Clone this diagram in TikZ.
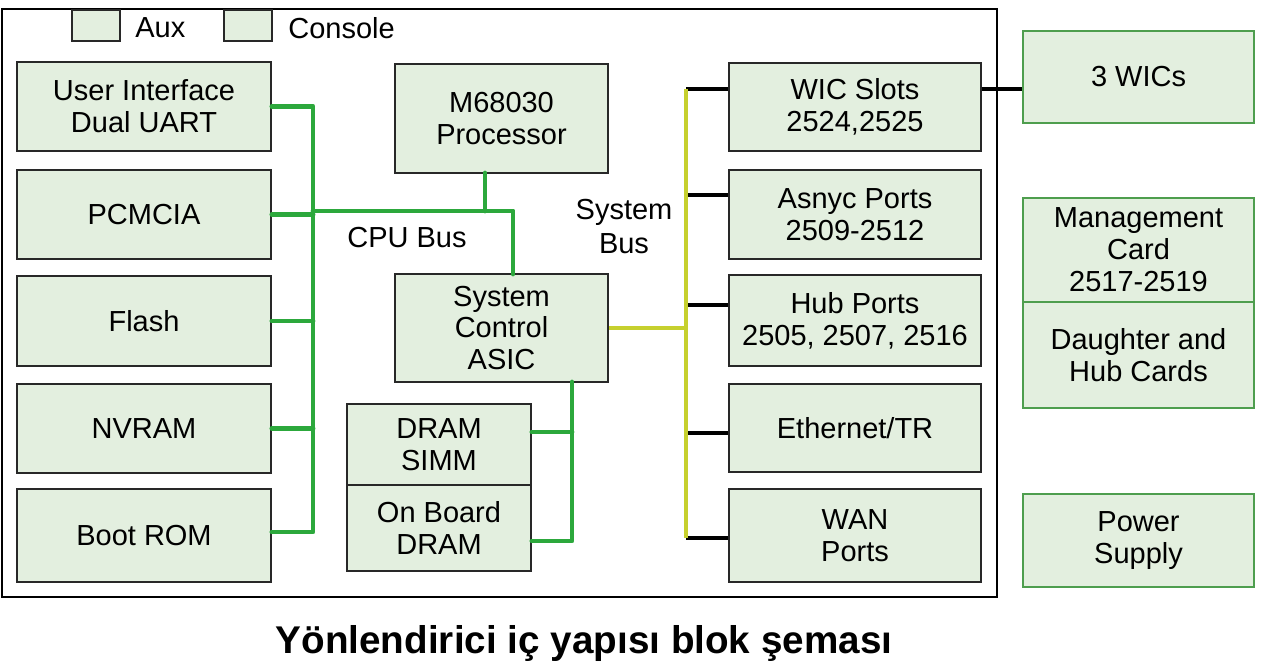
\documentclass[tikz,border=0pt]{standalone}
\usepackage{fontspec}
\setmainfont{Liberation Sans}
\usepackage{tikz}
\usetikzlibrary{positioning}
\definecolor{rtedge}{RGB}{40,40,40}
\definecolor{rtfill}{RGB}{227,239,223}
\definecolor{rtgreen}{RGB}{44,168,60}
\definecolor{rtcard}{RGB}{78,158,78}
\definecolor{rtsys}{RGB}{198,208,46}
\tikzset{
  blk/.style={
    draw=rtedge, line width=1.1pt, fill=rtfill, align=center,
    inner sep=0pt, font=\fontsize{16.5}{18.2}\selectfont
  },
  card/.style={blk, draw=rtcard},
  port/.style={draw=rtedge, line width=1.1pt, fill=rtfill, inner sep=0pt,
    minimum width=0.96cm, minimum height=0.62cm},
  cpubus/.style={draw=rtgreen, line width=2.8pt, line join=round, line cap=round},
  sysbus/.style={draw=rtsys, line width=2.8pt, line join=round},
  stub/.style={draw=black, line width=2.8pt},
  lbl/.style={font=\fontsize{16.5}{19.5}\selectfont, align=center, inner sep=0pt}
}
\begin{document}
\begin{tikzpicture}[x=0.02cm,y=-0.02cm]
  \useasboundingbox (0,0) rectangle (1280,669);
  % router board
  \draw[draw=black, line width=1.1pt] (2,9) rectangle (997,597);
  \node[port] (aux) at (96,25.5) {};
  \node[lbl, anchor=west] (auxl) at (135,28) {Aux};
  \node[port] (con) at (248,25.5) {};
  \node[lbl, anchor=west] (conl) at (288,28) {Console};
  % left column
  \node[blk, minimum width=5.08cm, minimum height=1.78cm] (ui) at (144,106.5) {User Interface\\Dual UART};
  \node[blk, minimum width=5.08cm, minimum height=1.78cm] (pcmcia) at (144,214.5) {PCMCIA};
  \node[blk, minimum width=5.08cm, minimum height=1.8cm] (flash) at (144,321) {Flash};
  \node[blk, minimum width=5.08cm, minimum height=1.78cm] (nvram) at (144,428.5) {NVRAM};
  \node[blk, minimum width=5.08cm, minimum height=1.86cm] (bootrom) at (144,535.5) {Boot ROM};
  % middle
  \node[blk, minimum width=4.26cm, minimum height=2.18cm] (cpu) at (501.5,118.5) {M68030\\Processor};
  \node[blk, minimum width=4.26cm, minimum height=2.16cm] (asic) at (501.5,328) {System\\Control\\ASIC};
  \node[blk, minimum width=3.68cm, minimum height=1.62cm] (simm) at (439,444.5) {DRAM\\SIMM};
  \node[blk, minimum width=3.68cm, minimum height=1.72cm] (obram) at (439,528) {On Board\\DRAM};
  \node[lbl] (cpubusl) at (407,238) {CPU Bus};
  \node[lbl] (sysbusl) at (624,226.5) {System\\Bus};
  % right column
  \node[blk, minimum width=5.04cm, minimum height=1.76cm] (wic) at (855,107) {WIC Slots\\2524,2525};
  \node[blk, minimum width=5.04cm, minimum height=1.78cm] (async) at (855,214.5) {Asnyc Ports\\2509-2512};
  \node[blk, minimum width=5.04cm, minimum height=1.82cm] (hub) at (855,320.5) {Hub Ports\\2505, 2507, 2516};
  \node[blk, minimum width=5.04cm, minimum height=1.76cm] (eth) at (855,428) {Ethernet/TR};
  \node[blk, minimum width=5.04cm, minimum height=1.86cm] (wan) at (855,535.5) {WAN\\Ports};
  % add-on cards
  \node[card, minimum width=4.62cm, minimum height=1.84cm] (wics) at (1138.5,77) {3 WICs};
  \node[card, minimum width=4.62cm, minimum height=2.08cm] (mgmt) at (1138.5,250) {Management\\Card\\2517-2519};
  \node[card, minimum width=4.62cm, minimum height=2.12cm] (dghtr) at (1138.5,355) {Daughter and\\Hub Cards};
  \node[card, minimum width=4.62cm, minimum height=1.86cm] (power) at (1138.5,540.5) {Power\\Supply};
  % CPU bus
  \coordinate (cpuTop) at (313,108);
  \coordinate (cpuJoin) at (313,211);
  \coordinate (cpuOut) at (485,173);
  \coordinate (asicIn) at (513,274);
  \coordinate (memBus) at (572,382);
  \draw[cpubus] (ui.east) -| ([yshift=0.07cm]bootrom.east -| cpuTop) -- ([yshift=0.07cm]bootrom.east);
  \foreach \n in {pcmcia,flash,nvram}
    \draw[cpubus] (\n.east) -- (\n.east -| cpuTop);
  \draw[cpubus] (cpuJoin) -| (asicIn);
  \draw[cpubus] (cpuOut) -- (cpuOut |- cpuJoin);
  \draw[cpubus] (memBus) |- ([yshift=-0.26cm]obram.east);
  \draw[cpubus] ([yshift=0.25cm]simm.east) -- ([yshift=0.25cm]simm.east -| memBus);
  % system bus
  \coordinate (sysTop) at (686,89);
  \coordinate (sysBot) at (686,538);
  \foreach \n/\y in {wic/89,async/195,hub/305,eth/433,wan/538}
    \draw[stub] (sysTop |- 0,\y) -- (\n.west |- 0,\y);
  \draw[sysbus] (asic.east) -- (asic.east -| sysTop);
  \draw[sysbus] (sysTop) -- (sysBot);
  \draw[stub] ([yshift=0.36cm]wic.east) -- ([yshift=0.36cm]wic.east -| wics.west);
  \node[font=\fontsize{22}{24}\selectfont\bfseries, inner sep=0pt] (title) at (584,643) {Yönlendirici iç yapısı blok şeması};
\end{tikzpicture}
\end{document}
